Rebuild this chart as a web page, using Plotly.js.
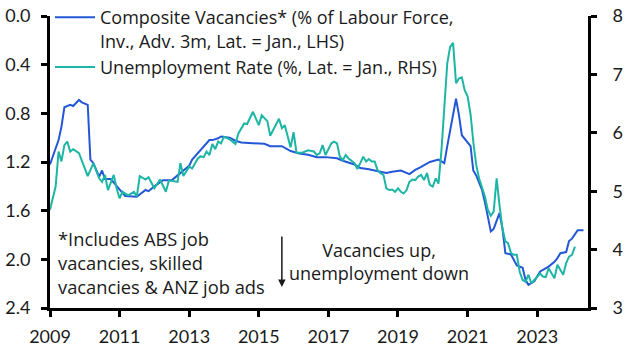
<!DOCTYPE html>
<html>
<head>
<meta charset="utf-8">
<script src="https://cdn.plot.ly/plotly-3.0.1.min.js"></script>
<style>
html,body{margin:0;padding:0;background:#fff;}
#chart{width:628px;height:353px;}
</style>
</head>
<body>
<div id="chart"></div>
<script>
// Composite vacancies (% of labour force, inverted, advanced 3m) - LHS
const vacDates = ['2009-01','2009-03','2009-04','2009-05','2009-06','2009-08','2009-09','2009-11','2009-12',
'2010-02','2010-03','2010-04','2010-06','2010-07','2010-08','2010-10','2010-12',
'2011-03','2011-07','2011-10','2011-11','2012-01','2012-04','2012-07','2012-09',
'2013-01','2013-02','2013-04','2013-06','2013-08','2013-09','2013-11','2013-12',
'2014-03','2014-05','2014-07','2014-11','2015-03','2015-05','2015-09','2015-12',
'2016-03','2016-06','2016-09','2016-12','2017-04','2017-06','2017-10','2017-12',
'2018-03','2018-07','2018-09','2018-11','2019-02','2019-05','2019-07','2019-09','2019-12',
'2020-03','2020-05','2020-06','2020-09','2020-10','2020-11','2021-02','2021-03','2021-04','2021-06','2021-07',
'2021-09','2021-10','2021-12','2022-01','2022-02','2022-04','2022-06','2022-08','2022-09','2022-10','2022-12',
'2023-02','2023-04','2023-05','2023-07','2023-08','2023-09','2023-11','2023-12','2024-01','2024-03','2024-04','2024-05'];
const vacValues = [1.22,1.08,1.02,0.91,0.75,0.73,0.74,0.69,0.71,
0.73,1.18,1.21,1.32,1.27,1.34,1.34,1.40,
1.48,1.485,1.43,1.44,1.40,1.35,1.35,1.31,
1.23,1.18,1.13,1.07,1.02,1.02,1.005,0.99,
1.00,1.025,1.04,1.046,1.05,1.07,1.07,1.11,
1.13,1.14,1.16,1.16,1.17,1.19,1.22,1.25,
1.26,1.28,1.29,1.28,1.27,1.30,1.265,1.24,1.20,
1.18,1.21,1.07,0.68,0.81,0.98,1.07,1.27,1.31,1.43,1.53,
1.77,1.75,1.62,1.745,1.95,1.96,2.05,2.07,2.17,2.21,2.18,
2.10,2.07,2.06,2.02,1.99,1.95,1.94,1.85,1.83,1.76,1.76,1.76];

// Unemployment rate (%) - RHS
const unempDates = ['2009-01','2009-03','2009-04','2009-05','2009-06','2009-07','2009-08','2009-09','2009-11','2009-12',
'2010-02','2010-03','2010-04','2010-06','2010-07','2010-08','2010-09','2010-11','2010-12',
'2011-01','2011-02','2011-04','2011-06','2011-07','2011-08','2011-10','2011-11',
'2012-01','2012-03','2012-05','2012-06','2012-07','2012-09','2012-10','2012-11',
'2013-01','2013-02','2013-04','2013-05','2013-06','2013-07','2013-08','2013-09','2013-10','2013-11','2013-12',
'2014-01','2014-03','2014-05','2014-06','2014-08','2014-09','2014-11',
'2015-01','2015-02','2015-04','2015-05','2015-08','2015-09','2015-10','2015-11','2015-12',
'2016-01','2016-02','2016-04','2016-06','2016-08','2016-09','2016-10','2016-11','2016-12',
'2017-02','2017-03','2017-04','2017-05','2017-06','2017-07','2017-08','2017-10','2017-11','2017-12',
'2018-01','2018-02','2018-03','2018-04','2018-05','2018-06','2018-07','2018-08','2018-09','2018-10','2018-11','2018-12',
'2019-01','2019-02','2019-03','2019-04','2019-05','2019-06','2019-07','2019-08','2019-09','2019-10','2019-11','2019-12',
'2020-01','2020-02','2020-03','2020-04','2020-05','2020-06','2020-07','2020-08','2020-09','2020-10','2020-11','2020-12',
'2021-01','2021-02','2021-03','2021-04','2021-05','2021-07','2021-08','2021-09','2021-10','2021-11','2021-12',
'2022-01','2022-02','2022-03','2022-04','2022-05','2022-06','2022-07','2022-08','2022-09','2022-10','2022-11','2022-12',
'2023-01','2023-02','2023-03','2023-04','2023-05','2023-07','2023-08','2023-09','2023-10','2023-11','2023-12',
'2024-01','2024-02'];
const unempValues = [4.68,5.08,5.68,5.51,5.79,5.85,5.68,5.72,5.65,5.53,
5.26,5.36,5.48,5.22,5.16,5.28,5.02,5.28,5.05,
4.88,4.99,4.93,4.99,4.91,5.26,5.20,5.24,
5.05,5.20,4.99,5.18,5.18,5.16,5.48,5.26,
5.42,5.39,5.56,5.60,5.58,5.68,5.62,5.81,5.72,5.85,5.82,
5.93,5.89,5.81,5.99,6.16,6.15,6.36,
6.13,6.30,6.20,5.95,6.24,6.08,6.13,5.93,5.75,
6.01,5.66,5.66,5.70,5.68,5.62,5.65,5.79,5.62,
5.82,5.85,5.82,5.59,5.53,5.62,5.56,5.48,5.38,5.48,
5.59,5.51,5.55,5.51,5.51,5.36,5.31,5.28,5.05,5.02,5.03,4.99,
5.05,4.99,4.96,5.02,5.16,5.20,5.19,5.25,5.28,5.19,5.31,5.11,
5.08,5.22,5.13,5.70,6.51,7.19,7.47,7.54,6.85,6.93,6.95,6.73,
6.62,6.31,5.85,5.45,5.22,4.91,4.68,4.58,4.65,5.22,4.76,
4.36,4.14,4.11,3.94,3.91,3.91,3.62,3.48,3.45,3.57,3.42,3.48,
3.54,3.59,3.54,3.53,3.68,3.51,3.74,3.65,3.57,3.77,3.88,
3.91,4.05];

const xTickVals = ['2009-01-01','2011-01-01','2013-01-01','2015-01-01','2017-01-01','2019-01-01','2021-01-01','2023-01-01'];
const xTickLabels = ['2009','2011','2013','2015','2017','2019','2021','2023'];
const leftTicks = [0, 0.4, 0.8, 1.2, 1.6, 2.0, 2.4];
const rightTicks = [3, 4, 5, 6, 7, 8];

const seriesNames = ['Composite Vacancies* (% of Labour Force,<br>Inv., Adv. 3m, Lat. = Jan., LHS)',
                     'Unemployment Rate (%, Lat. = Jan., RHS)'];

const TICKFONT = 'Lato, "Open Sans", sans-serif';
const FONT = '"Open Sans", Lato, sans-serif';
const TXT = '#1a1a1a';

const traces = [
  {x: vacDates, y: vacValues, type: 'scatter', mode: 'lines', name: seriesNames[0],
   yaxis: 'y', line: {color: '#2457d6', width: 2}},
  {x: unempDates, y: unempValues, type: 'scatter', mode: 'lines', name: seriesNames[1],
   yaxis: 'y2', line: {color: '#1db5a5', width: 2}}
];

const axisCommon = {
  showline: true, linecolor: '#000', linewidth: 3, mirror: false,
  ticks: 'outside', ticklen: 6, tickwidth: 3, tickcolor: '#000',
  showgrid: false, zeroline: false,
  tickfont: {family: TICKFONT, size: 18, color: TXT}
};

const layout = {
  width: 628, height: 353,
  margin: {l: 50, r: 40, t: 16, b: 45, pad: 0, autoexpand: false},
  paper_bgcolor: '#fff', plot_bgcolor: '#fff',
  font: {family: FONT, size: 18, color: TXT},
  showlegend: true,
  legend: {x: 0.0, y: 1.058, xanchor: 'left', yanchor: 'top', bgcolor: 'rgba(0,0,0,0)',
           font: {family: FONT, size: 18, color: TXT}, valign: 'top', tracegroupgap: 10, itemwidth: 40},
  xaxis: Object.assign({}, axisCommon, {
    type: 'date', range: ['2009-01-01', '2024-06-17'],
    tickmode: 'array', tickvals: xTickVals, ticktext: xTickLabels, ticklabelstandoff: 4
  }),
  yaxis: Object.assign({}, axisCommon, {
    range: [2.4, 0], tickmode: 'array', tickvals: leftTicks,
    ticktext: leftTicks.map(v => v.toFixed(1)), side: 'left', ticklabelstandoff: 7
  }),
  yaxis2: Object.assign({}, axisCommon, {
    range: [3, 8], tickmode: 'array', tickvals: rightTicks,
    overlaying: 'y', side: 'right', ticklabelstandoff: 12
  }),
  annotations: [
    {xref: 'paper', yref: 'paper', x: 0.012, y: 0.155, xanchor: 'left', yanchor: 'middle', align: 'left',
     showarrow: false, text: '*Includes ABS job<br>vacancies, skilled<br>vacancies &amp; ANZ job ads',
     font: {family: FONT, size: 18.3, color: TXT}},
    {xref: 'paper', yref: 'paper', x: 0.612, y: 0.158, xanchor: 'center', yanchor: 'middle', align: 'center',
     showarrow: false, text: 'Vacancies up,<br>unemployment down',
     font: {family: FONT, size: 18, color: TXT}},
    {xref: 'paper', yref: 'paper', x: 0.431, y: 0.072, ax: 0, ay: -52, text: '',
     showarrow: true, arrowhead: 2, arrowsize: 1, arrowwidth: 1.5, arrowcolor: TXT}
  ]
};

Plotly.newPlot('chart', traces, layout, {displayModeBar: false, staticPlot: true});
</script>
</body>
</html>
